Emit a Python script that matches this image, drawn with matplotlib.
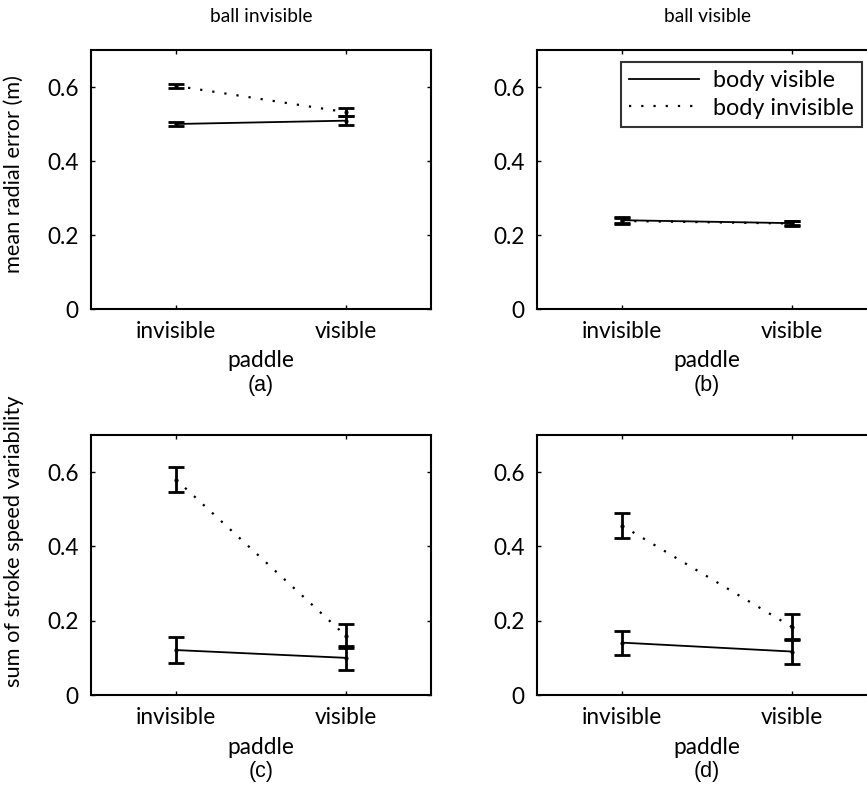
import matplotlib
matplotlib.use("Agg")
import matplotlib.pyplot as plt
from matplotlib.lines import Line2D

plt.rcParams['font.family'] = ['Lato', 'DejaVu Sans']

paddle = ["invisible", "visible"]
xpos = [1, 2]

# (a) ball invisible, mean radial error
a_body_vis = [0.500, 0.509]
a_body_vis_err = [0.006, 0.012]
a_body_inv = [0.603, 0.532]
a_body_inv_err = [0.006, 0.011]

# (b) ball visible, mean radial error
b_body_vis = [0.240, 0.232]
b_body_vis_err = [0.008, 0.006]
b_body_inv = [0.238, 0.231]
b_body_inv_err = [0.008, 0.006]

# (c) ball invisible, stroke speed variability
c_body_vis = [0.121, 0.100]
c_body_vis_err = [0.034, 0.033]
c_body_inv = [0.580, 0.159]
c_body_inv_err = [0.033, 0.032]

# (d) ball visible, stroke speed variability
d_body_vis = [0.141, 0.117]
d_body_vis_err = [0.032, 0.033]
d_body_inv = [0.456, 0.183]
d_body_inv_err = [0.034, 0.034]

W, H = 867, 791
fig = plt.figure(figsize=(W / 100, H / 100), dpi=100)
DOTS = (1, 4.5)


def make_ax(left, top, right, bottom):
    return fig.add_axes([left / W, 1 - bottom / H, (right - left) / W, (bottom - top) / H])


def draw(ax, sv, sv_err, si, si_err, letter, title=None, ylabel=None, ylab_y=0.5, legend=False):
    ax.errorbar(xpos, sv, yerr=sv_err, fmt='-', color='k', lw=1.3, elinewidth=2,
                capsize=6, capthick=2, marker='.', markersize=4)
    eb = ax.errorbar(xpos, si, yerr=si_err, fmt=':', color='k', lw=1.6, elinewidth=2,
                     capsize=6, capthick=2, marker='.', markersize=4)
    eb.lines[0].set_dashes(DOTS)
    ax.set_xlim(0.5, 2.5)
    ax.set_ylim(0, 0.7)
    ax.set_xticks(xpos)
    ax.set_xticklabels(paddle)
    ax.set_yticks([0, 0.2, 0.4, 0.6])
    ax.set_yticklabels(["0", "0.2", "0.4", "0.6"])
    ax.tick_params(direction='in', length=3, width=1, top=True, right=True,
                   labelsize=16.3, pad=9)
    for s in ax.spines.values():
        s.set_linewidth(1.5)
    ax.text(0.5, -0.2, "paddle", transform=ax.transAxes, ha='center', va='center', fontsize=16.3)
    ax.text(0.5, -0.295, letter, transform=ax.transAxes, ha='center', va='center',
            fontsize=15.5, family='Liberation Sans')
    if title:
        ax.set_title(title, fontsize=13.8, pad=20)
    if ylabel:
        ax.set_ylabel(ylabel, fontsize=15.7)
        ax.yaxis.set_label_coords(-0.197, ylab_y)
    if legend:
        handles = [Line2D([], [], color='k', lw=1.3, ls='-'),
                   Line2D([], [], color='k', lw=1.6, ls=(0, DOTS))]
        leg = ax.legend(handles, ["body visible", "body invisible"], loc='upper right',
                        bbox_to_anchor=(0.956, 0.954), borderaxespad=0, fontsize=16.8,
                        frameon=True, fancybox=False, edgecolor='k', handlelength=3.0,
                        borderpad=0.35, labelspacing=0.28, handletextpad=0.6)
        leg.get_frame().set_linewidth(1.5)


ax_a = make_ax(91, 50, 431, 309)
ax_b = make_ax(537, 50, 877, 309)
ax_c = make_ax(91, 435, 431, 695)
ax_d = make_ax(537, 435, 877, 695)

draw(ax_a, a_body_vis, a_body_vis_err, a_body_inv, a_body_inv_err, "(a)",
     title="ball invisible", ylabel="mean radial error (m)", ylab_y=0.52)
draw(ax_b, b_body_vis, b_body_vis_err, b_body_inv, b_body_inv_err, "(b)",
     title="ball visible", legend=True)
draw(ax_c, c_body_vis, c_body_vis_err, c_body_inv, c_body_inv_err, "(c)",
     ylabel="sum of stroke speed variability", ylab_y=0.59)
draw(ax_d, d_body_vis, d_body_vis_err, d_body_inv, d_body_inv_err, "(d)")

fig.savefig("out.png", dpi=100)
